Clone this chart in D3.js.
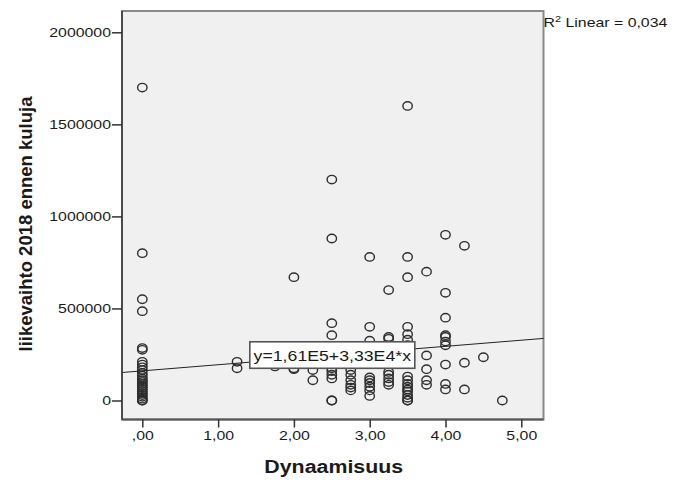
<!DOCTYPE html>
<html>
<head>
<meta charset="utf-8">
<script src="https://cdn.jsdelivr.net/npm/d3@7"></script>
<style>
  html, body { margin: 0; padding: 0; background: #fff; }
  text { font-family: "Liberation Sans", Arial, sans-serif; fill: #1a1a1a; }
</style>
</head>
<body>
<svg id="chart" width="682" height="480"></svg>
<script>
// ---- data ----
const dynaamisuus = [
  0,0,0,0,0,0,0,0,0,0,0,0,0,0,0,0,0,0,0,0,0,0,0,0,0,0,
  1.25,1.25,
  1.75,
  2,2,2,
  2.25,2.25,
  2.5,2.5,2.5,2.5,2.5,2.5,2.5,2.5,2.5,2.5,
  2.75,2.75,2.75,2.75,2.75,2.75,
  3,3,3,3,3,3,3,3,3,
  3.25,3.25,3.25,3.25,3.25,3.25,3.25,3.25,
  3.5,3.5,3.5,3.5,3.5,3.5,3.5,3.5,3.5,3.5,3.5,3.5,3.5,3.5,3.5,3.5,3.5,
  3.75,3.75,3.75,3.75,3.75,
  4,4,4,4,4,4,4,4,4,4,
  4.25,4.25,4.25,
  4.5,
  4.75
];
const liikevaihto = [
  0,0,10000,20000,30000,40000,50000,60000,70000,80000,90000,100000,110000,120000,135000,150000,165000,180000,195000,210000,275000,285000,485000,550000,800000,1700000,
  175000,210000,
  185000,
  170000,175000,670000,
  110000,165000,
  0,0,120000,140000,160000,175000,355000,420000,880000,1200000,
  55000,70000,85000,110000,140000,165000,
  25000,55000,75000,95000,110000,125000,325000,400000,780000,
  85000,100000,120000,140000,155000,335000,345000,600000,
  0,0,15000,30000,50000,60000,75000,90000,110000,130000,300000,330000,360000,400000,670000,780000,1600000,
  85000,110000,170000,245000,700000,
  60000,90000,195000,300000,320000,345000,355000,450000,585000,900000,
  60000,205000,840000,
  235000,
  0
];
const xTickValues = [0, 1, 2, 3, 4, 5];
const xTickLabels = [",00", "1,00", "2,00", "3,00", "4,00", "5,00"];
const yTickValues = [0, 500000, 1000000, 1500000, 2000000];
const yTickLabels = ["0", "500000", "1000000", "1500000", "2000000"];
const fitIntercept = 161000;
const fitSlope = 33300;
const fitLabel = "y=1,61E5+3,33E4*x";
const rSquaredLabel = "0,034";
const xTitle = "Dynaamisuus";
const yTitle = "liikevaihto 2018 ennen kuluja";

// ---- layout ----
const STRETCH = 1.22; // reference text is horizontally stretched
const plot = { left: 122, right: 543.5, top: 11, bottom: 419.5 };

const x = d3.scaleLinear().domain([-0.268, 5.293]).range([plot.left, plot.right]);
const y = d3.scaleLinear().domain([-103200, 2115700]).range([plot.bottom, plot.top]);

const svg = d3.select("#chart");

function stretch(sel) {
  sel.each(function () {
    const w = this.getComputedTextLength();
    d3.select(this).attr("textLength", w * STRETCH).attr("lengthAdjust", "spacingAndGlyphs");
  });
}

// plot background + frame
svg.append("rect")
  .attr("x", plot.left).attr("y", plot.top)
  .attr("width", plot.right - plot.left).attr("height", plot.bottom - plot.top)
  .attr("fill", "#f0f0f0").attr("stroke", "#8a8a8a").attr("stroke-width", 2);

// points
const pts = dynaamisuus.map((d, i) => ({ x: d, y: liikevaihto[i] }));
svg.append("g").selectAll("ellipse").data(pts).join("ellipse")
  .attr("cx", d => x(d.x)).attr("cy", d => y(d.y))
  .attr("rx", 4.7).attr("ry", 4.2)
  .attr("fill", "none").attr("stroke", "#2e2e2e").attr("stroke-width", 1.4);

// regression line
const [dx0, dx1] = x.domain();
svg.append("line")
  .attr("x1", x(dx0)).attr("y1", y(fitIntercept + fitSlope * dx0))
  .attr("x2", x(dx1)).attr("y2", y(fitIntercept + fitSlope * dx1))
  .attr("stroke", "#222").attr("stroke-width", 1);

// axes
const xAxis = svg.append("g").attr("transform", `translate(0,${plot.bottom})`)
  .call(d3.axisBottom(x).tickValues(xTickValues).tickSize(8).tickPadding(3)
    .tickFormat((d, i) => xTickLabels[i]));
const yAxis = svg.append("g").attr("transform", `translate(${plot.left},0)`)
  .call(d3.axisLeft(y).tickValues(yTickValues).tickSize(10).tickPadding(1)
    .tickFormat((d, i) => yTickLabels[i]));
[xAxis, yAxis].forEach(a => {
  a.select(".domain").attr("stroke", "#444").attr("stroke-width", 1.8);
  a.selectAll(".tick line").attr("stroke", "#333").attr("stroke-width", 1.5);
  a.selectAll(".tick text").attr("font-size", 13).attr("fill", "#1a1a1a")
    .attr("font-family", "Liberation Sans, Arial, sans-serif");
});
xAxis.select(".domain").attr("d", `M${plot.left},0H${plot.right}`);
yAxis.select(".domain").attr("d", `M0,${plot.top}V${plot.bottom}`);
xAxis.select(".domain").attr("stroke", "#555");
stretch(xAxis.selectAll(".tick text"));
stretch(yAxis.selectAll(".tick text"));

// fit label box centred on the line at x = 2.5
const lx = 2.5, ly = fitIntercept + fitSlope * lx;
const lg = svg.append("g");
const box = lg.append("rect").attr("fill", "#fff").attr("stroke", "#555").attr("stroke-width", 1.6);
const lt = lg.append("text").attr("font-size", 14.5).attr("text-anchor", "middle")
  .attr("x", x(lx) + 0.5).attr("y", y(ly) + 5.5).text(fitLabel);
stretch(lt);
const bw = 165, bh = 26.5;
box.attr("x", x(lx) + 0.5 - bw / 2).attr("y", y(ly) - bh / 2 - 0.5).attr("width", bw).attr("height", bh);

// R² label
const r2 = svg.append("text").attr("x", plot.right).attr("y", 27).attr("font-size", 13);
r2.append("tspan").text("R");
r2.append("tspan").attr("font-size", 9).attr("dy", -5).text("2");
r2.append("tspan").attr("dy", 5).text(" Linear = " + rSquaredLabel);
stretch(r2);

// axis titles
const xt = svg.append("text").attr("x", (plot.left + plot.right) / 2 + 1).attr("y", 473)
  .attr("text-anchor", "middle").attr("font-size", 17.5).attr("font-weight", "bold").text(xTitle);
stretch(xt);
svg.append("text").attr("transform", "translate(32,224) rotate(-90)")
  .attr("text-anchor", "middle").attr("font-size", 18.5).attr("font-weight", "bold").text(yTitle);
</script>
</body>
</html>
